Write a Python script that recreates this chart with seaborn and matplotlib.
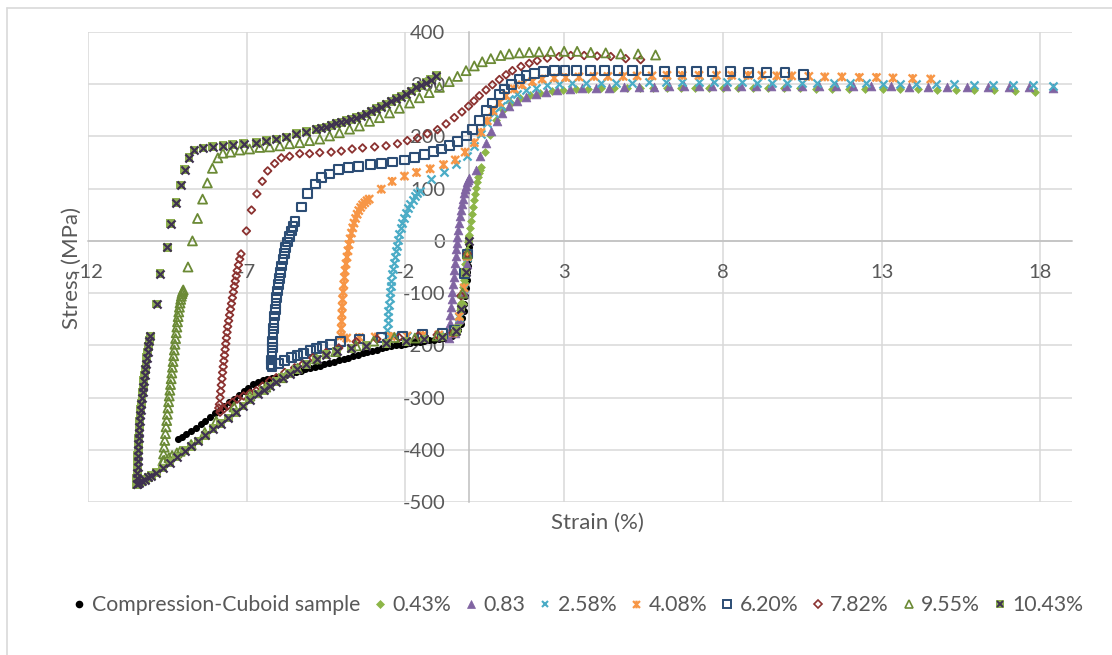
import matplotlib
matplotlib.use("Agg")
import matplotlib.pyplot as plt
import numpy as np
import pandas as pd
import seaborn as sns
from matplotlib.lines import Line2D
from matplotlib.path import Path

# ---- stress-strain data (strain %, stress MPa) ----
cuboid = [(0.00, 0), (-0.01, -12), (-0.02, -24), (-0.03, -36), (-0.04, -48), (-0.05, -60),
          (-0.07, -75), (-0.09, -90), (-0.11, -105), (-0.14, -120), (-0.17, -135), (-0.21, -148),
          (-0.26, -160), (-0.33, -170), (-0.42, -177), (-0.53, -182), (-0.65, -184), (-0.80, -186),
          (-0.95, -188), (-1.10, -189), (-1.25, -190), (-1.40, -192), (-1.55, -193), (-1.70, -194),
          (-1.85, -196), (-2.00, -197), (-2.15, -199), (-2.30, -200), (-2.45, -202), (-2.60, -204),
          (-2.75, -206), (-2.90, -208), (-3.05, -210), (-3.20, -213), (-3.35, -215), (-3.50, -218),
          (-3.65, -221), (-3.80, -224), (-3.95, -226), (-4.10, -229), (-4.25, -231), (-4.40, -234),
          (-4.55, -236), (-4.70, -239), (-4.85, -241), (-5.00, -244), (-5.15, -246), (-5.30, -249),
          (-5.45, -251), (-5.60, -254), (-5.75, -256), (-5.90, -259), (-6.05, -261), (-6.20, -263),
          (-6.35, -265), (-6.50, -267), (-6.65, -270), (-6.80, -275), (-6.95, -281), (-7.10, -288),
          (-7.25, -295), (-7.40, -302), (-7.55, -309), (-7.70, -316), (-7.85, -323), (-8.00, -330),
          (-8.15, -337), (-8.30, -344), (-8.45, -351), (-8.60, -358), (-8.75, -364), (-8.90, -370),
          (-9.05, -376), (-9.15, -380)]

pre_043 = [(-0.05, -30), (-0.12, -80), (-0.20, -120), (-0.30, -155), (-0.40, -172),
           (-0.38, -170), (-0.35, -160), (-0.32, -147), (-0.29, -133), (-0.26, -118), (-0.23, -104),
           (-0.20, -89), (-0.17, -74), (-0.14, -59), (-0.11, -45), (-0.08, -31), (-0.05, -17),
           (-0.02, -3), (0.01, 11), (0.04, 25), (0.07, 38), (0.10, 52), (0.13, 65), (0.16, 78),
           (0.19, 90), (0.22, 102), (0.25, 113), (0.28, 122), (0.31, 130), (0.34, 136), (0.37, 141),
           (0.50, 170), (0.66, 203), (0.85, 232), (1.07, 251), (1.32, 264), (1.60, 273), (1.91, 280),
           (2.25, 284), (2.61, 287), (2.98, 289), (3.36, 290), (3.75, 291), (4.15, 292), (4.56, 292),
           (4.97, 293), (5.39, 293), (5.81, 293), (6.24, 293), (6.67, 293), (7.11, 293), (7.56, 293),
           (8.00, 293), (8.48, 293), (8.96, 292), (9.43, 292), (9.92, 292), (10.42, 292), (10.92, 291),
           (11.44, 291), (11.97, 291), (12.49, 291), (13.04, 290), (13.59, 290), (14.16, 290),
           (14.74, 289), (15.33, 289), (15.92, 288), (16.55, 288), (17.20, 287), (17.85, 286)]

pre_083 = [(-0.06, -45), (-0.16, -100), (-0.30, -150), (-0.45, -176), (-0.62, -186),
           (-0.62, -172), (-0.60, -157), (-0.58, -142), (-0.56, -127), (-0.54, -112), (-0.52, -97),
           (-0.50, -83), (-0.48, -69), (-0.46, -55), (-0.44, -42), (-0.42, -29), (-0.40, -16),
           (-0.38, -4), (-0.36, 8), (-0.33, 21), (-0.30, 34), (-0.27, 47), (-0.24, 59), (-0.21, 70),
           (-0.18, 81), (-0.15, 91), (-0.12, 99), (-0.09, 106), (-0.06, 112), (-0.03, 117), (0.00, 121),
           (0.22, 136), (0.36, 163), (0.54, 188), (0.69, 211), (0.87, 230), (1.05, 245), (1.27, 259),
           (1.52, 268), (1.80, 276), (2.11, 282), (2.43, 286), (2.79, 289), (3.19, 291), (3.57, 292),
           (4.00, 293), (4.42, 293), (4.89, 294), (5.36, 295), (5.83, 295), (6.30, 296), (6.78, 297),
           (7.25, 297), (7.65, 297), (8.10, 297), (8.57, 297), (9.04, 297), (9.51, 297), (9.98, 297),
           (10.49, 297), (11.02, 296), (11.56, 296), (12.10, 296), (12.66, 296), (13.29, 296),
           (13.86, 295), (14.46, 295), (15.05, 295), (15.68, 294), (16.34, 294), (17.00, 294),
           (17.63, 294), (18.40, 293)]

pre_258 = [(-0.05, -30), (-0.15, -90), (-0.30, -145), (-0.50, -175), (-0.95, -180), (-1.45, -181),
           (-1.95, -182), (-2.35, -183), (-2.57, -182),
           (-2.57, -170), (-2.56, -158), (-2.55, -146), (-2.54, -134), (-2.52, -122), (-2.50, -110),
           (-2.48, -98), (-2.46, -87), (-2.44, -76), (-2.42, -64), (-2.40, -53), (-2.37, -42),
           (-2.34, -31), (-2.31, -20), (-2.28, -9), (-2.24, 2), (-2.20, 13), (-2.15, 24), (-2.10, 34),
           (-2.04, 44), (-1.98, 54), (-1.91, 63), (-1.84, 71), (-1.77, 78), (-1.70, 85), (-1.62, 91),
           (-1.55, 96),
           (-1.19, 118), (-0.77, 131), (-0.41, 147), (-0.07, 162), (0.17, 182), (0.38, 205),
           (0.58, 226), (0.80, 245), (1.00, 259), (1.27, 272), (1.52, 281), (1.80, 288), (2.11, 293),
           (2.47, 298), (2.84, 300), (3.25, 302), (3.68, 303), (4.15, 303), (4.63, 303), (5.15, 303),
           (5.68, 304), (6.20, 304), (6.72, 304), (7.25, 304), (7.72, 304), (8.13, 304), (8.60, 304),
           (9.07, 303), (9.54, 303), (10.02, 303), (10.49, 303), (10.96, 302), (11.50, 302),
           (12.00, 302), (12.50, 302), (13.03, 301), (13.57, 301), (14.10, 301), (14.70, 300),
           (15.27, 300), (15.90, 299), (16.50, 299), (17.15, 298), (17.77, 298), (18.40, 297)]

pre_408 = [(-0.05, -30), (-0.15, -90), (-0.30, -145), (-0.50, -176), (-0.95, -180), (-1.45, -181),
           (-1.95, -182), (-2.45, -183), (-2.95, -184), (-3.45, -185), (-3.85, -186),
           (-4.03, -182), (-4.02, -168), (-4.01, -154), (-4.00, -140), (-3.99, -126), (-3.98, -112),
           (-3.96, -98), (-3.94, -84), (-3.92, -70), (-3.90, -57), (-3.87, -44), (-3.84, -31),
           (-3.81, -19), (-3.78, -7), (-3.74, 4), (-3.70, 15), (-3.66, 25), (-3.62, 34), (-3.57, 43),
           (-3.52, 51), (-3.47, 58), (-3.41, 64), (-3.35, 69), (-3.28, 73), (-3.21, 77), (-3.14, 80),
           (-2.76, 99), (-2.42, 114), (-2.03, 124), (-1.65, 131), (-1.22, 138), (-0.80, 146),
           (-0.43, 155), (-0.12, 170), (0.17, 188), (0.38, 208), (0.58, 230), (0.76, 249), (0.96, 265),
           (1.17, 278), (1.43, 291), (1.68, 299), (2.00, 305), (2.31, 310), (2.69, 312), (3.05, 313),
           (3.47, 314), (3.94, 315), (4.38, 315), (4.86, 315), (5.30, 316), (5.77, 316), (6.24, 317),
           (6.72, 317), (7.25, 317), (7.80, 317), (8.28, 317), (8.80, 317), (9.23, 317), (9.70, 316),
           (10.17, 316), (10.71, 315), (11.21, 314), (11.75, 314), (12.30, 313), (12.84, 313),
           (13.36, 312), (13.98, 311), (14.55, 310)]

pre_620 = [(-0.05, -25), (-0.14, -63), (-0.46, -172), (-0.84, -178), (-1.46, -179), (-2.09, -182),
           (-2.76, -185), (-3.45, -188), (-4.05, -193), (-4.35, -198), (-4.60, -202), (-4.80, -206),
           (-5.00, -210), (-5.20, -215), (-5.40, -219), (-5.60, -224), (-5.80, -229), (-6.00, -235),
           (-6.20, -240),
           (-6.22, -236), (-6.21, -228), (-6.20, -216), (-6.19, -204), (-6.18, -192), (-6.17, -180),
           (-6.16, -168), (-6.14, -156), (-6.12, -144), (-6.10, -132), (-6.08, -120), (-6.06, -108),
           (-6.03, -96), (-6.00, -84), (-5.97, -72), (-5.94, -60), (-5.90, -48), (-5.86, -36),
           (-5.82, -24), (-5.77, -13), (-5.72, -2), (-5.66, 9), (-5.60, 19), (-5.54, 28), (-5.48, 37),
           (-5.27, 65), (-5.08, 90), (-4.83, 109), (-4.64, 121), (-4.39, 128), (-4.10, 136),
           (-3.79, 140), (-3.47, 143), (-3.10, 146), (-2.75, 148), (-2.40, 151), (-2.03, 155),
           (-1.72, 159), (-1.40, 166), (-1.12, 171), (-0.87, 176), (-0.62, 182), (-0.36, 191),
           (-0.08, 201), (0.11, 214), (0.33, 230), (0.55, 249), (0.74, 264), (0.96, 280), (1.11, 291),
           (1.33, 300), (1.59, 310), (1.80, 316), (2.06, 320), (2.34, 324), (2.69, 326), (3.03, 326),
           (3.40, 327), (3.84, 327), (4.26, 327), (4.70, 326), (5.15, 326), (5.62, 326), (6.15, 325),
           (6.68, 325), (7.16, 325), (7.66, 324), (8.25, 324), (8.80, 323), (9.38, 322), (9.96, 322),
           (10.55, 319)]

pre_782 = [(-0.05, -25), (-0.25, -105), (-0.50, -176), (-1.00, -180), (-1.60, -182), (-2.20, -185),
           (-2.90, -188), (-3.55, -193), (-4.10, -205), (-4.50, -214), (-4.92, -224), (-5.23, -236),
           (-5.49, -243), (-5.80, -252), (-6.07, -262), (-6.28, -268), (-6.50, -278), (-6.70, -287),
           (-6.90, -292), (-7.10, -297), (-7.30, -303), (-7.45, -309), (-7.60, -316), (-7.72, -322),
           (-7.84, -328), (-7.88, -320),
           (-7.86, -313), (-7.84, -300), (-7.82, -288), (-7.80, -276), (-7.78, -264), (-7.76, -252),
           (-7.74, -241), (-7.72, -230), (-7.70, -219), (-7.68, -208), (-7.66, -197), (-7.64, -186),
           (-7.62, -175), (-7.60, -164), (-7.57, -153), (-7.54, -142), (-7.51, -131), (-7.48, -120),
           (-7.45, -109), (-7.42, -98), (-7.39, -87), (-7.36, -77), (-7.33, -67), (-7.30, -57),
           (-7.26, -46), (-7.22, -35), (-7.18, -25),
           (-7.01, 19), (-6.85, 59), (-6.68, 90), (-6.51, 114), (-6.34, 134), (-6.12, 148),
           (-5.91, 159), (-5.65, 162), (-5.33, 167), (-5.02, 167), (-4.70, 169), (-4.34, 170),
           (-4.02, 172), (-3.68, 176), (-3.35, 178), (-2.97, 180), (-2.61, 182), (-2.25, 186),
           (-1.94, 192), (-1.62, 197), (-1.31, 205), (-0.99, 213), (-0.72, 224), (-0.46, 236),
           (-0.22, 247), (-0.01, 258), (0.16, 268), (0.33, 278), (0.54, 289), (0.74, 299), (0.96, 309),
           (1.17, 318), (1.37, 326), (1.64, 334), (1.90, 340), (2.15, 345), (2.47, 350), (2.84, 353),
           (3.21, 355), (3.63, 355), (4.04, 354), (4.47, 353), (4.94, 349), (5.41, 347)]

pre_955 = [(-0.05, -25), (-0.20, -100), (-0.45, -172), (-1.00, -182), (-1.70, -186), (-2.35, -185),
           (-3.00, -192), (-3.55, -201), (-4.20, -212), (-4.80, -226), (-5.40, -244), (-5.90, -262),
           (-6.40, -280), (-6.90, -297), (-7.40, -318), (-7.96, -345), (-8.32, -367), (-8.75, -390),
           (-9.10, -403), (-9.20, -406), (-9.35, -411), (-9.45, -415), (-9.60, -420),
           (-9.64, -421), (-9.62, -408), (-9.60, -395), (-9.58, -382), (-9.56, -369), (-9.54, -356),
           (-9.52, -344), (-9.50, -332), (-9.48, -320), (-9.46, -308), (-9.44, -297), (-9.42, -286),
           (-9.40, -275), (-9.38, -264), (-9.36, -253), (-9.34, -242), (-9.32, -231), (-9.30, -220),
           (-9.28, -209), (-9.26, -198), (-9.24, -187), (-9.22, -176), (-9.20, -165), (-9.18, -155),
           (-9.16, -145), (-9.14, -136), (-9.12, -127), (-9.10, -119), (-9.08, -112), (-9.06, -106),
           (-9.04, -101), (-9.02, -97), (-9.00, -94),
           (-8.85, -50), (-8.71, 0), (-8.55, 43), (-8.39, 80), (-8.24, 111), (-8.08, 139),
           (-7.91, 159), (-7.75, 168), (-7.51, 170), (-7.22, 174), (-6.91, 176), (-6.59, 179),
           (-6.28, 180), (-5.96, 182), (-5.65, 186), (-5.33, 188), (-5.02, 192), (-4.70, 195),
           (-4.39, 201), (-4.08, 207), (-3.76, 214), (-3.45, 220), (-3.13, 229), (-2.82, 236),
           (-2.50, 245), (-2.19, 254), (-1.87, 264), (-1.56, 274), (-1.25, 284), (-0.93, 294),
           (-0.62, 305), (-0.36, 315), (-0.09, 326), (0.17, 335), (0.42, 343), (0.69, 349),
           (1.00, 355), (1.27, 358), (1.59, 360), (1.90, 361), (2.21, 362), (2.58, 363), (3.00, 363),
           (3.41, 363), (3.84, 361), (4.31, 360), (4.78, 358), (5.33, 358), (5.88, 356)]

pre_1043 = [(0.00, 0), (-0.10, -60), (-0.25, -130), (-0.40, -172), (-0.84, -184), (-1.40, -188),
            (-1.97, -192), (-2.60, -196), (-3.23, -201), (-3.70, -206), (-4.17, -211), (-4.50, -218),
            (-4.80, -226), (-5.12, -236), (-5.43, -246), (-5.65, -254), (-5.87, -262), (-6.08, -270),
            (-6.28, -278), (-6.46, -286), (-6.65, -293), (-6.90, -304), (-7.12, -316), (-7.35, -328),
            (-7.58, -339), (-7.82, -350), (-8.06, -360), (-8.30, -372), (-8.53, -383), (-8.75, -393),
            (-8.95, -402), (-9.20, -414), (-9.42, -425), (-9.65, -435), (-9.85, -444), (-10.00, -450),
            (-10.10, -453), (-10.20, -457), (-10.30, -460), (-10.38, -463), (-10.45, -466),
            (-10.47, -466), (-10.46, -455), (-10.45, -444), (-10.44, -433), (-10.44, -422),
            (-10.43, -411), (-10.42, -400), (-10.41, -389), (-10.40, -378), (-10.39, -367),
            (-10.38, -356), (-10.37, -345), (-10.36, -334), (-10.34, -323), (-10.32, -312),
            (-10.30, -301), (-10.28, -290), (-10.26, -279), (-10.24, -268), (-10.21, -257),
            (-10.19, -246), (-10.17, -235), (-10.15, -224), (-10.12, -213), (-10.10, -202),
            (-10.07, -191), (-10.04, -182),
            (-9.83, -121), (-9.73, -63), (-9.50, -12), (-9.39, 33), (-9.23, 73), (-9.08, 107),
            (-8.95, 136), (-8.82, 159), (-8.66, 174), (-8.38, 178), (-8.07, 180), (-7.75, 182),
            (-7.44, 184), (-7.09, 186), (-6.70, 188), (-6.38, 192), (-6.07, 195), (-5.75, 199),
            (-5.44, 205), (-5.12, 209), (-4.81, 214), (-4.65, 216), (-4.49, 218), (-4.33, 221),
            (-4.18, 225), (-4.02, 227), (-3.86, 230), (-3.70, 233), (-3.55, 236), (-3.40, 239),
            (-3.24, 243), (-3.08, 248), (-2.92, 253), (-2.76, 257), (-2.61, 262), (-2.45, 267),
            (-2.29, 272), (-2.14, 276), (-1.98, 281), (-1.82, 287), (-1.66, 294), (-1.50, 298),
            (-1.35, 303), (-1.20, 309), (-1.03, 316)]

labels = ["Compression-Cuboid sample", "0.43%", "0.83", "2.58%", "4.08%",
          "6.20%", "7.82%", "9.55%", "10.43%"]
x_ticks = [-12, -7, -2, 3, 8, 13, 18]
y_ticks = [-500, -400, -300, -200, -100, 0, 100, 200, 300, 400]

# ---- marker styles ----
STAR = Path([(-0.5, -0.5), (0.5, 0.5), (-0.5, 0.5), (0.5, -0.5), (0.0, -0.55), (0.0, 0.55)],
            [Path.MOVETO, Path.LINETO, Path.MOVETO, Path.LINETO, Path.MOVETO, Path.LINETO])

C_GREEN, C_PURPLE, C_CYAN, C_ORANGE = "#8DB648", "#8064A2", "#4BACC6", "#F79646"
C_BLUE, C_RED, C_OLIVE = "#2C4D75", "#8B3230", "#6B8A35"
C_XFILL, C_XLINE = "#8EAF50", "#3F3151"

styles = [
    dict(marker="o", s=26, color="black", edgecolor="black", linewidth=0),
    dict(marker="D", s=16, color=C_GREEN, edgecolor=C_GREEN, linewidth=0.5),
    dict(marker="^", s=40, color=C_PURPLE, edgecolor=C_PURPLE, linewidth=0.5),
    dict(marker="x", s=34, color=C_CYAN, linewidth=1.6),
    dict(marker=STAR, s=40, facecolor="none", edgecolor=C_ORANGE, linewidth=1.7),
    dict(marker="s", s=40, facecolor="none", edgecolor=C_BLUE, linewidth=1.5),
    dict(marker="D", s=15, facecolor="none", edgecolor=C_RED, linewidth=1.3),
    dict(marker="^", s=42, facecolor="none", edgecolor=C_OLIVE, linewidth=1.3),
    dict(marker="s", s=40, color=C_XFILL, edgecolor="none", linewidth=0),
]
datasets = [cuboid, pre_043, pre_083, pre_258, pre_408, pre_620, pre_782, pre_955, pre_1043]

sns.set_theme(style="white")
plt.rcParams["font.family"] = ["Lato", "DejaVu Sans"]
plt.rcParams["axes.unicode_minus"] = False
TEXT = "#595959"

fig = plt.figure(figsize=(11.12, 6.55), dpi=100)
fig.patch.set_facecolor("white")
ax = fig.add_axes([88 / 1112, 1 - 502 / 655, (1072 - 88) / 1112, (502 - 32) / 655])

for data, st in zip(datasets, styles):
    df = pd.DataFrame(data, columns=["strain", "stress"])
    sns.scatterplot(data=df, x="strain", y="stress", ax=ax, legend=False, zorder=3, **st)
# dark cross drawn over the filled squares of the last series
df_last = pd.DataFrame(pre_1043, columns=["strain", "stress"])
sns.scatterplot(data=df_last, x="strain", y="stress", ax=ax, legend=False, zorder=3,
                marker="x", s=34, color=C_XLINE, linewidth=1.6)

ax.set_xlim(-12, 19)
ax.set_ylim(-500, 400)
ax.set_xticks(x_ticks)
ax.set_yticks(y_ticks)
ax.set_xlabel("")
ax.set_ylabel("")
ax.grid(True, color="#D9D9D9", linewidth=1.1)
ax.set_axisbelow(True)
for side in ["top", "right"]:
    ax.spines[side].set_visible(False)
for side in ["left", "bottom"]:
    ax.spines[side].set_position(("data", 0))
    ax.spines[side].set_color("#BFBFBF")
    ax.spines[side].set_linewidth(1.1)
    ax.spines[side].set_zorder(2)
ax.tick_params(length=0, labelsize=14.5, labelcolor=TEXT)
ax.tick_params(axis="y", pad=17)
ax.tick_params(axis="x", pad=17)

fig.text(597 / 1112, 1 - 523 / 655, "Strain (%)", ha="center", va="center",
         fontsize=16, color=TEXT)
fig.text(72 / 1112, 1 - 268 / 655, "Stress (MPa)", ha="center", va="center",
         rotation=90, fontsize=16, color=TEXT)

# legend
def h(marker, ms, mfc, mec, mew):
    return Line2D([], [], ls="none", marker=marker, markersize=ms,
                  markerfacecolor=mfc, markeredgecolor=mec, markeredgewidth=mew)

handles = [
    h("o", 5.5, "black", "black", 0),
    h("D", 3.8, C_GREEN, C_GREEN, 0.5),
    h("^", 5.5, C_PURPLE, C_PURPLE, 0.5),
    h("x", 5, C_CYAN, C_CYAN, 1.5),
    h(STAR, 5.5, "none", C_ORANGE, 1.6),
    h("s", 5.5, "none", C_BLUE, 1.4),
    h("D", 3.8, "none", C_RED, 1.2),
    h("^", 5.5, "none", C_OLIVE, 1.2),
    (h("s", 5.5, C_XFILL, C_XFILL, 0), h("x", 4.8, C_XLINE, C_XLINE, 1.4)),
]
fig.legend(handles, labels, loc="center", bbox_to_anchor=(578 / 1112, 1 - 605 / 655),
           ncol=9, frameon=False, fontsize=15.3, labelcolor=TEXT, handlelength=0.6,
           handletextpad=0.3, columnspacing=0.62, borderaxespad=0, borderpad=0)

# chart area frame
fig.add_artist(Line2D([7 / 1112, 1], [1 - 7.5 / 655] * 2, color="#D9D9D9", lw=1.2,
                      transform=fig.transFigure))
fig.add_artist(Line2D([7 / 1112] * 2, [0, 1 - 7.5 / 655], color="#D9D9D9", lw=1.2,
                      transform=fig.transFigure))

fig.savefig("out.png", dpi=100, facecolor="white")
